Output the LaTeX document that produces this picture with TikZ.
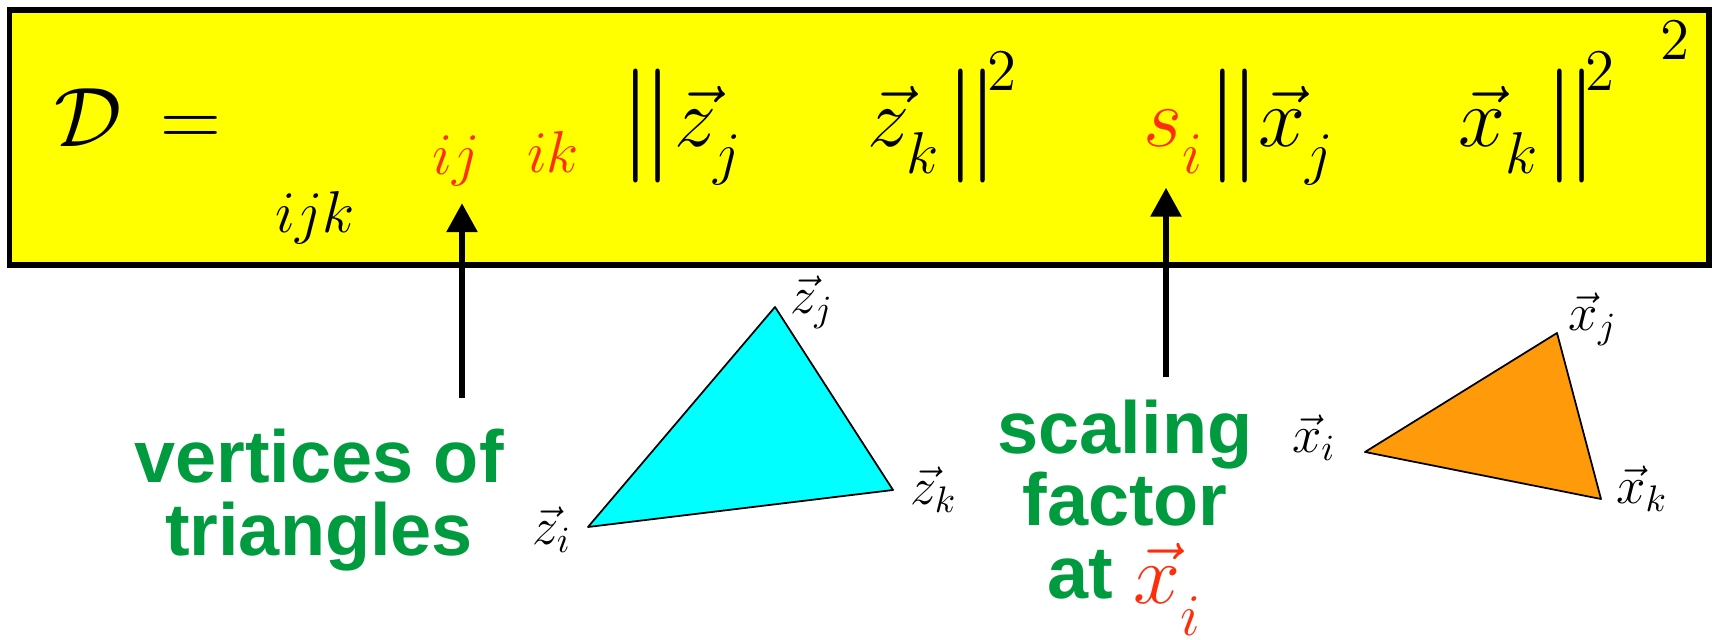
\documentclass[tikz,border=0pt]{standalone}
\usepackage{fix-cm}
\usepackage{amsmath}
\usepackage{fontspec}
\setsansfont{Liberation Sans}
\usetikzlibrary{arrows.meta,positioning,calc}
\definecolor{boxyellow}{RGB}{255,255,0}
\definecolor{notegreen}{RGB}{0,155,62}
\definecolor{weightred}{RGB}{255,45,10}
\definecolor{zcyan}{RGB}{0,255,255}
\definecolor{xorange}{RGB}{255,155,10}
\newcommand{\dsub}[2][3.8pt]{_{\lower#1\hbox{$\scriptstyle#2$}}}
\tikzset{
eqframe/.style={draw, line width=1.7pt, fill=boxyellow, inner sep=0pt},
eqterm/.style={inner sep=0pt, anchor=base, font=\fontsize{24}{26}\selectfont},
eqbar/.style={inner sep=0pt, anchor=base, font=\fontsize{32.4}{34}\selectfont},
eqweight/.style={eqterm, text=weightred},
notetext/.style={align=center, inner sep=0pt, anchor=base, text=notegreen, font=\fontsize{21}{20.5}\selectfont\sffamily\bfseries},
vtxlabel/.style={inner sep=0pt, font=\fontsize{15}{17}\selectfont},
tripatch/.style={draw=black, line width=0.5pt, line join=round},
ptrarrow/.style={-{Triangle[length=2.9mm, width=3mm]}, line width=1.7pt}
}

\begin{document}
\begin{tikzpicture}[x=0.01cm, y=-0.01cm]
\useasboundingbox (0,0) rectangle (1712,640);
\node[eqframe, minimum width=16.98cm, minimum height=2.55cm] (frame) at (859,137.5) {};

\node[eqterm] (dlhs) at (88,147) {$\mathcal{D}$};
\node[eqterm] (eqsign) at (191,147) {$=$};
\node[eqterm] (sumidx) at (315,233) {$\scriptstyle ijk$};
\node[eqweight] (wij) at (456,175) {$\scriptstyle ij$};
\node[eqweight] (wik) at (553,173) {$\scriptstyle ik$};
\node[eqbar] (zbarl) at (647,155) {$\|$};
\node[eqterm, anchor=base west] (zjterm) at (674,147) {$\vec{z}\dsub{j}$};
\node[eqterm, anchor=base west] (zkterm) at (867,147) {$\vec{z}\dsub{k}$};
\node[eqbar] (zbarr) at (972,155) {$\|$};
\node[eqterm] (zsq) at (1002,91) {$\scriptstyle 2$};
\node[eqweight, anchor=base west] (si) at (1143,147) {$s\dsub{i}$};
\node[eqbar] (xbarl) at (1234,155) {$\|$};
\node[eqterm, anchor=base west] (xjterm) at (1258,147) {$\vec{x}\dsub{j}$};
\node[eqterm, anchor=base west] (xkterm) at (1458,147) {$\vec{x}\dsub{k}$};
\node[eqbar] (xbarr) at (1571,155) {$\|$};
\node[eqterm] (xsq) at (1600,91) {$\scriptstyle 2$};
\node[eqterm] (outsq) at (1675,60) {$\scriptstyle 2$};

\node[notetext] (vtxnote) at (319,555) {vertices of\\triangles};
\node[notetext] (scalenote) at (1125,598) {scaling\\factor\\at {\color{weightred}\fontsize{24}{20.5}\selectfont\raisebox{-1.5pt}{$\vec{x}\dsub[5.5pt]{i}$}}};

\coordinate (zi) at (588,527);
\coordinate (zj) at (775,307);
\coordinate (zk) at (893,490);
\filldraw[tripatch, fill=zcyan] (zi) -- (zj) -- (zk) -- cycle;
\node[vtxlabel] (zilab) at (552,530) {$\vec{z}_{i}$};
\node[vtxlabel] (zjlab) at (812,302) {$\vec{z}_{j}$};
\node[vtxlabel] (zklab) at (934,490) {$\vec{z}_{k}$};

\coordinate (xi) at (1365,452);
\coordinate (xj) at (1557,333);
\coordinate (xk) at (1601,499);
\filldraw[tripatch, fill=xorange] (xi) -- (xj) -- (xk) -- cycle;
\node[vtxlabel] (xilab) at (1314,438) {$\vec{x}_{i}$};
\node[vtxlabel] (xjlab) at (1593,319) {$\vec{x}_{j}$};
\node[vtxlabel] (xklab) at (1642,489) {$\vec{x}_{k}$};

\coordinate (wtail) at (462,398);
\draw[ptrarrow, shorten >=1.6mm] (wtail) -- (wtail |- wij.south);
\coordinate (stail) at (1166,377);
\draw[ptrarrow, shorten >=1.4mm] (stail) -- (stail |- si.south);
\end{tikzpicture}
\end{document}
